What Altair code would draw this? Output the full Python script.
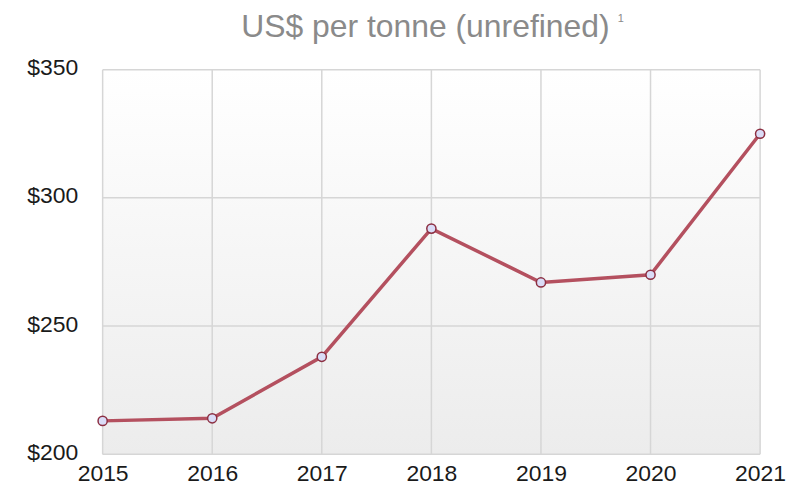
import altair as alt
import pandas as pd

years = [2015, 2016, 2017, 2018, 2019, 2020, 2021]
prices = [213, 214, 238, 288, 267, 270, 325]
y_ticks = [200, 250, 300, 350]
title_text = "US$ per tonne (unrefined)"
footnote_mark = "1"

df = pd.DataFrame({"year": years, "price": prices})
df_y = pd.DataFrame({"tick": y_ticks})
df_x = pd.DataFrame({"year": years})

FONT = "Liberation Sans"
GRID = "#d6d6d6"

x_scale = alt.Scale(domain=[2015, 2021], nice=False)
y_scale = alt.Scale(domain=[200, 350], nice=False)

x_enc = alt.X("year:Q", scale=x_scale,
              axis=alt.Axis(values=years, format="d", title=None, grid=False,
                            ticks=False, domain=False, labelFontSize=23,
                            labelColor="#1a1a1a", labelPadding=8, labelFlush=False,
                            labelFont=FONT))
y_enc = alt.Y("price:Q", scale=y_scale,
              axis=alt.Axis(values=y_ticks, format="$d", title=None, grid=False,
                            ticks=False, domain=False, labelFontSize=23,
                            labelColor="#1a1a1a", labelPadding=25, labelFlush=False,
                            labelOffset=-2, labelFont=FONT))

bg = alt.Chart(df).mark_rect(
    color=alt.Gradient(gradient="linear",
                       stops=[alt.GradientStop(color="#ffffff", offset=0),
                              alt.GradientStop(color="#ececec", offset=1)],
                       x1=0, x2=0, y1=0, y2=1)
).encode(x=alt.value(0), x2=alt.value("width"), y=alt.value(0), y2=alt.value("height"))

hgrid = alt.Chart(df_y).mark_rule(color=GRID, strokeWidth=1.5).encode(
    y=alt.Y("tick:Q", scale=y_scale), x=alt.value(0), x2=alt.value("width"))
vgrid = alt.Chart(df_x).mark_rule(color=GRID, strokeWidth=1.5).encode(
    x=alt.X("year:Q", scale=x_scale), y=alt.value(0), y2=alt.value("height"))

line = alt.Chart(df).mark_line(color="#b4505f", strokeWidth=3.5).encode(x=x_enc, y=y_enc)
pts = alt.Chart(df).mark_point(filled=True, fill="#dadcf7", stroke="#8c2f42",
                               strokeWidth=1.5, size=85, opacity=1).encode(x="year:Q", y="price:Q")

title = alt.Chart(df.head(1)).mark_text(text=title_text, fontSize=32, color="#8a8a8a", font=FONT,
                                        align="center", baseline="alphabetic").encode(
    x=alt.value(324), y=alt.value(-32.5))
sup = alt.Chart(df.head(1)).mark_text(text=footnote_mark, fontSize=11, color="#8a8a8a", font=FONT,
                                      align="left", baseline="top").encode(
    x=alt.value(517), y=alt.value(-57))

chart = alt.layer(bg, hgrid, vgrid, line, pts, title, sup).properties(
    width=660, height=386,
    autosize=alt.AutoSizeParams(type="none"),
    padding={"left": 95, "top": 61, "right": 29, "bottom": 32},
).configure_view(stroke=None)

chart.save("out.html", embed_options={"renderer": "svg", "actions": False})
